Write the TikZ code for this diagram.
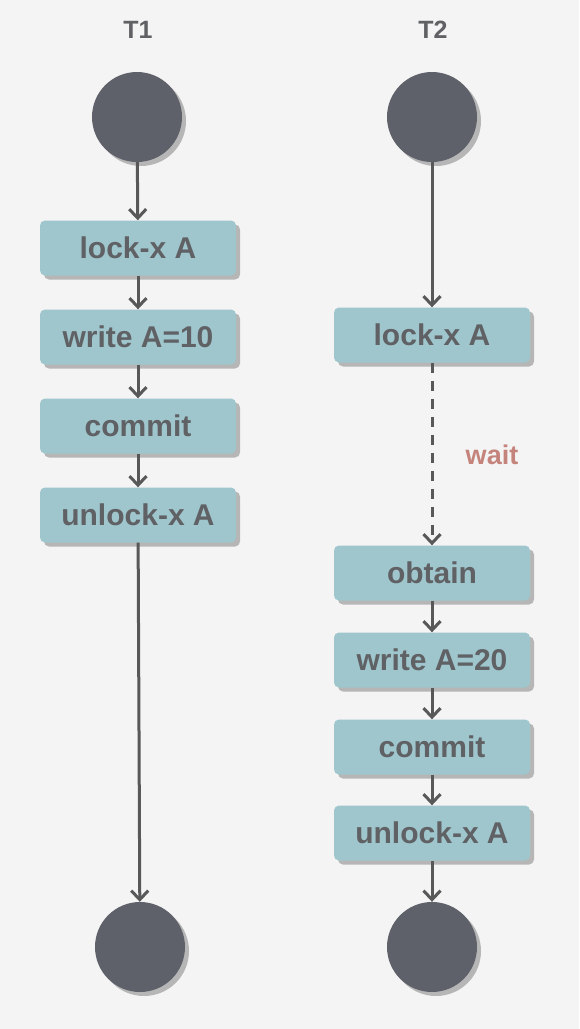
\documentclass[tikz,border=0pt]{standalone}
\usepackage{fontspec}
\setmainfont{Liberation Sans}
\usetikzlibrary{arrows.meta, shadows}
\definecolor{bgGray}{HTML}{F4F4F4}
\definecolor{boxTeal}{HTML}{9FC6CD}
\definecolor{textGray}{HTML}{5F6164}
\definecolor{dotGray}{HTML}{5E6169}
\definecolor{lineGray}{HTML}{585858}
\definecolor{waitRed}{HTML}{C4847C}
\tikzstyle{stepBox} = [rectangle, rounded corners=5pt, minimum width=196pt, minimum height=55pt, text centered, fill=boxTeal, text=textGray, font=\fontsize{30}{36}\selectfont\bfseries, drop shadow={shadow xshift=4pt, shadow yshift=-4pt, fill=black, opacity=0.25}]
\tikzstyle{stateDot} = [circle, minimum size=90pt, inner sep=0pt, fill=dotGray, drop shadow={shadow xshift=4pt, shadow yshift=-4pt, fill=black, opacity=0.25}]
\tikzstyle{laneLabel} = [text=textGray, font=\fontsize{25}{30}\selectfont\bfseries]
\tikzstyle{arrow} = [line width=3pt, draw=lineGray, -{Straight Barb[length=9pt, width=17pt, line width=3pt]}]

\begin{document}
\begin{tikzpicture}[x=1pt, y=1pt, node distance=89pt]
\fill[bgGray] (0,0) rectangle (579,-1029);
\useasboundingbox (0,0) rectangle (579,-1029);

\node (t1Label) [laneLabel] at (138,-30) {T1};
\node (t2Label) [laneLabel] at (433,-30) {T2};

% T1
\node (t1Start) [stateDot] at (137,-117) {};
\node (t1Lock) [stepBox] at (138,-248) {lock-x A};
\node (t1Write) [stepBox, below of=t1Lock] {write A=10};
\node (t1Commit) [stepBox, below of=t1Write] {commit};
\node (t1Unlock) [stepBox, below of=t1Commit] {unlock-x A};
\node (t1End) [stateDot] at (140,-947) {};

% T2
\node (t2Start) [stateDot] at (432,-117) {};
\node (t2Lock) [stepBox] at (432,-335) {lock-x A};
\node (t2Obtain) [stepBox] at (432,-573) {obtain};
\node (t2Write) [stepBox, below of=t2Obtain, yshift=2pt] {write A=20};
\node (t2Commit) [stepBox, below of=t2Write, yshift=2pt] {commit};
\node (t2Unlock) [stepBox, below of=t2Commit, yshift=3pt] {unlock-x A};
\node (t2End) [stateDot] at (432,-947) {};

\node (waitLabel) [text=waitRed, font=\fontsize{27}{32}\selectfont\bfseries] at (492,-455) {wait};

\draw [arrow] (t1Start) -- (t1Lock);
\draw [arrow] (t1Lock) -- (t1Write);
\draw [arrow] (t1Write) -- (t1Commit);
\draw [arrow] (t1Commit) -- (t1Unlock);
\draw [arrow] (t1Unlock) -- (t1End);

\draw [arrow] (t2Start) -- (t2Lock);
\draw [arrow, dash pattern=on 10pt off 8pt] (t2Lock) -- (t2Obtain);
\draw [arrow] (t2Obtain) -- (t2Write);
\draw [arrow] (t2Write) -- (t2Commit);
\draw [arrow] (t2Commit) -- (t2Unlock);
\draw [arrow] (t2Unlock) -- (t2End);
\end{tikzpicture}
\end{document}
